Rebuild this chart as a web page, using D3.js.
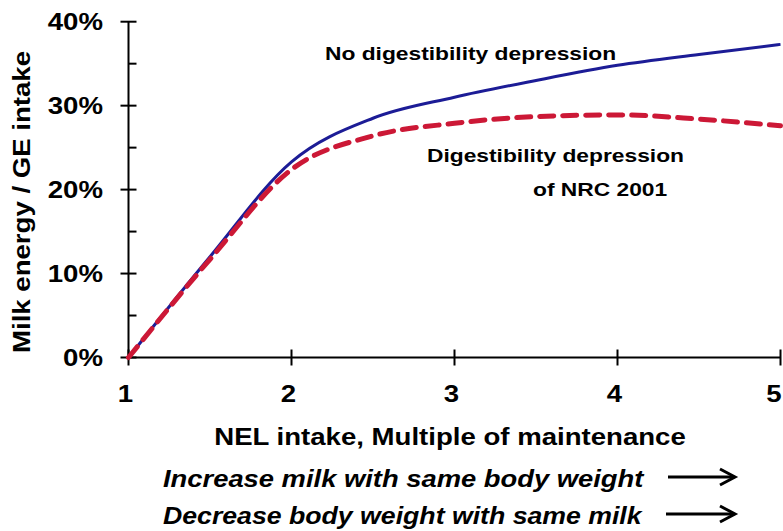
<!DOCTYPE html>
<html>
<head>
<meta charset="utf-8">
<script src="https://cdn.jsdelivr.net/npm/d3@7"></script>
<style>
  body { margin: 0; background: #fff; }
  text { font-family: "Liberation Sans", Arial, sans-serif; font-weight: bold; fill: #000; }
</style>
</head>
<body>
<script>
// values
var intake = [1, 1.5, 2, 2.5, 3, 3.5, 4, 4.5, 5];
var noDepression = [0, 12.0, 23.3, 28.5, 31.0, 33.0, 34.8, 36.1, 37.3];
var nrcDepression = [0, 11.7, 22.4, 26.4, 27.9, 28.7, 28.9, 28.4, 27.6];
var xTicks = [1, 2, 3, 4, 5];
var yTicks = [0, 10, 20, 30, 40];
var yMinor = [5, 15, 25, 35];

var width = 783, height = 531;
var sx = 1.2; // the original lettering is wider than Liberation Sans

var svg = d3.select('body').append('svg')
    .attr('width', width)
    .attr('height', height);

var x = d3.scaleLinear().domain([1, 5]).range([128.5, 780.5]);
var y = d3.scaleLinear().domain([0, 40]).range([357.5, 21.7]);

// stretched text helper
function label(px, py, str, size, anchor, rot, italic, stretch) {
    var t = svg.append('text')
        .attr('transform', 'translate(' + px + ',' + py + ')' + (rot ? ' rotate(' + rot + ')' : '') + ' scale(' + (stretch || sx) + ',1)')
        .attr('text-anchor', anchor || 'start')
        .attr('font-size', size)
        .text(str);
    if (italic) t.attr('font-style', 'italic');
    return t;
}

// axes
var yAxis = svg.append('g').attr('transform', 'translate(' + x(1) + ',0)');
yAxis.append('line')
    .attr('y1', y(0)).attr('y2', y(40))
    .attr('stroke', '#000').attr('stroke-width', 2);
yAxis.selectAll('.maj').data(yTicks).enter().append('line')
    .attr('x1', -8).attr('x2', 8)
    .attr('y1', d => y(d)).attr('y2', d => y(d))
    .attr('stroke', '#000').attr('stroke-width', 2);
yAxis.selectAll('.min').data(yMinor).enter().append('line')
    .attr('x1', 0).attr('x2', 8)
    .attr('y1', d => y(d)).attr('y2', d => y(d))
    .attr('stroke', '#000').attr('stroke-width', 2);
yTicks.forEach(function (d) {
    label(103, y(d) + 8.5, d + '%', 23, 'end');
});

var xAxis = svg.append('g').attr('transform', 'translate(0,' + y(0) + ')');
xAxis.append('line')
    .attr('x1', x(1)).attr('x2', x(5))
    .attr('stroke', '#000').attr('stroke-width', 2);
xAxis.selectAll('.maj').data(xTicks).enter().append('line')
    .attr('x1', d => x(d)).attr('x2', d => x(d))
    .attr('y1', -8).attr('y2', 8)
    .attr('stroke', '#000').attr('stroke-width', 2);
xTicks.forEach(function (d) {
    // keep the last label inside the page
    label(Math.min(x(d) - 3, width - 9), 402, d, 23, 'middle');
});

// lines
var line = d3.line()
    .x((d, i) => x(intake[i]))
    .y(d => y(d))
    .curve(d3.curveMonotoneX);

svg.append('path')
    .datum(noDepression)
    .attr('d', line)
    .attr('fill', 'none')
    .attr('stroke', '#1c1c96')
    .attr('stroke-width', 3);

svg.append('path')
    .datum(nrcDepression)
    .attr('d', line)
    .attr('fill', 'none')
    .attr('stroke', '#cc1836')
    .attr('stroke-width', 5)
    .attr('stroke-dasharray', '14,9')
    .attr('stroke-linecap', 'round');

// annotations
label(325, 60, 'No digestibility depression', 19);
label(427, 162, 'Digestibility depression', 19);
label(533, 196, 'of NRC 2001', 19);

// titles
label(30, 202, 'Milk energy / GE intake', 23, 'middle', -90);
label(450, 445, 'NEL intake, Multiple of maintenance', 23, 'middle');

var notes = ['Increase milk with same body weight', 'Decrease body weight with same milk'];
notes.forEach(function (d, i) {
    label(163, 487 + i * 37, d, 23, 'start', 0, true, i === 0 ? 1.19 : 1.16);
});

// arrows
var arrowStarts = [[668, 477], [666, 514]];
arrowStarts.forEach(function (a) {
    var tip = 735;
    svg.append('line')
        .attr('x1', a[0]).attr('x2', tip - 1)
        .attr('y1', a[1]).attr('y2', a[1])
        .attr('stroke', '#000').attr('stroke-width', 3);
    svg.append('path')
        .attr('d', 'M' + (tip - 15) + ',' + (a[1] - 8) + ' L' + tip + ',' + a[1] + ' L' + (tip - 15) + ',' + (a[1] + 8))
        .attr('fill', 'none').attr('stroke', '#000').attr('stroke-width', 3)
        .attr('stroke-linejoin', 'miter');
});
</script>
</body>
</html>
